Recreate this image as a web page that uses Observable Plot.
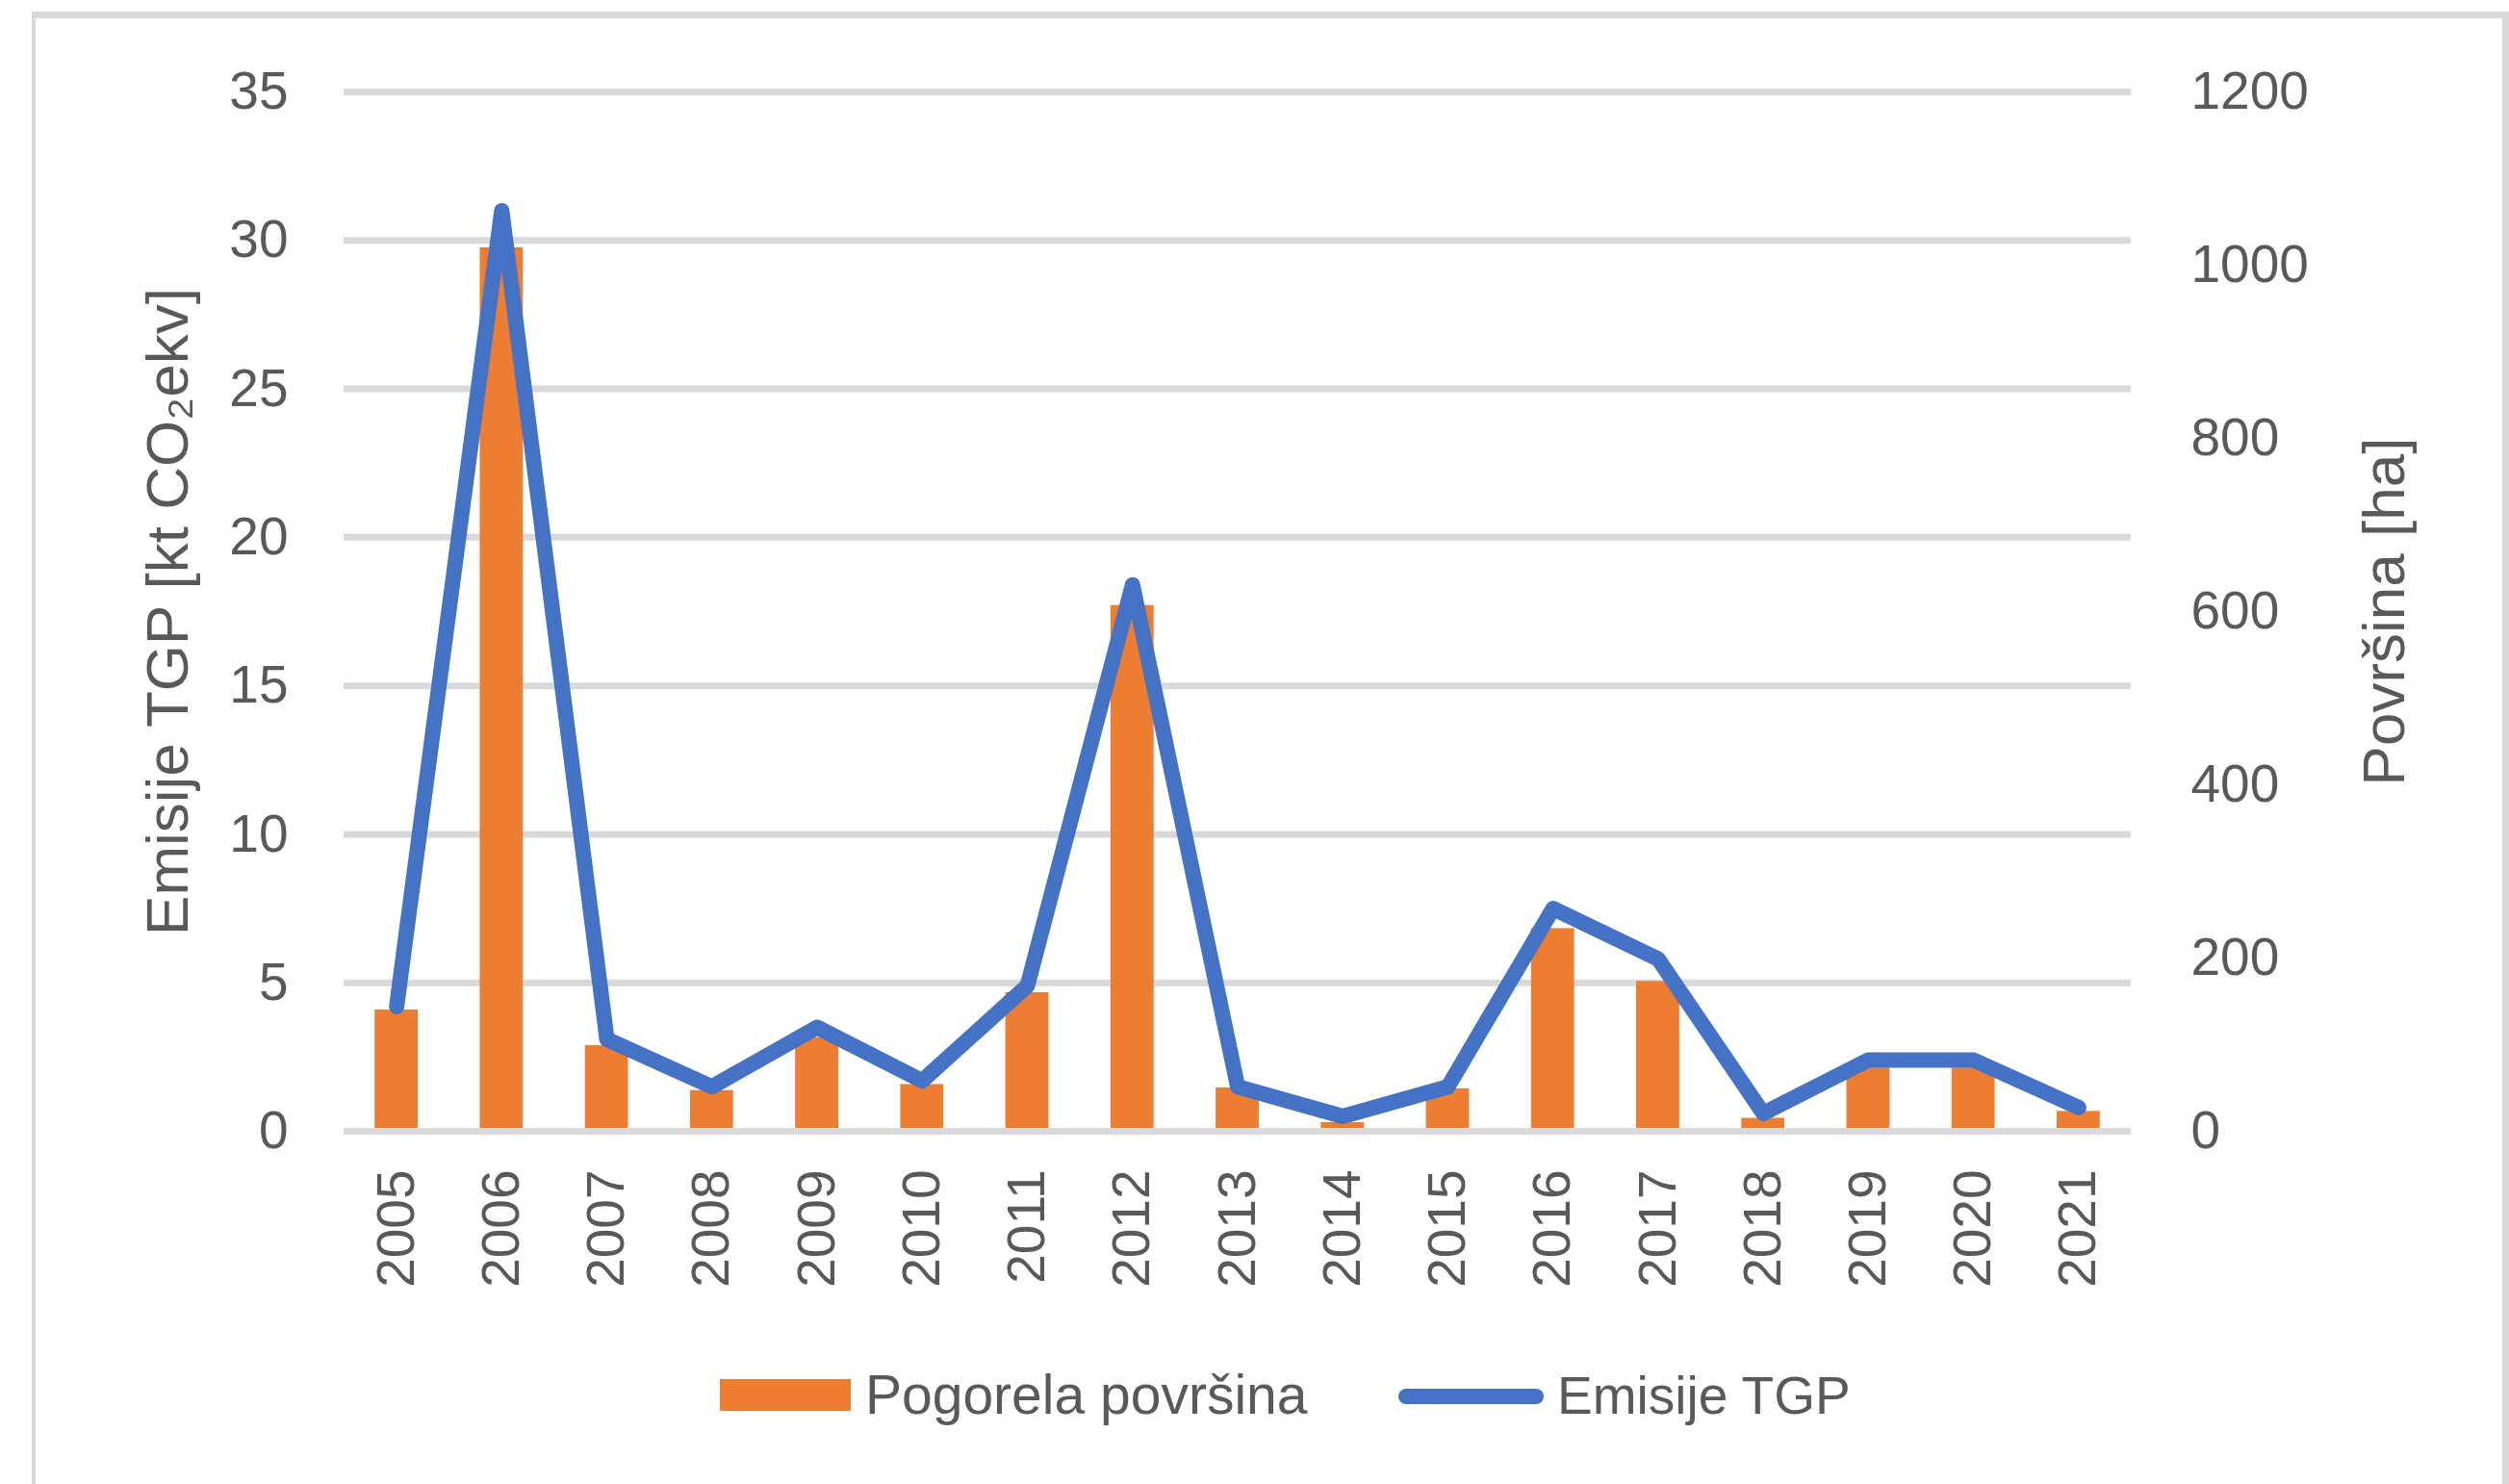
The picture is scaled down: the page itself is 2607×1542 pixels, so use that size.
<!DOCTYPE html>
<html>
<head>
<meta charset="utf-8">
<script src="https://cdn.jsdelivr.net/npm/d3@7"></script>
<script src="https://cdn.jsdelivr.net/npm/@observablehq/plot@0.6"></script>
<style>
html, body { margin: 0; padding: 0; background: #fff; overflow: hidden; width: 2607px; height: 1542px; }
#card { position: absolute; left: 33px; top: 12px; width: 2574px; height: 1600px; box-sizing: border-box;
  border-top: 7px solid #D9D9D9; border-left: 4px solid #D9D9D9; border-right: 7px solid #D9D9D9; }
#chart { position: absolute; left: 0; top: 0; width: 2607px; }
#legend { position: absolute; left: 0; top: 0; }
</style>
</head>
<body>
<div id="card"></div>
<div id="chart"></div>
<svg id="legend" width="2607" height="1542"></svg>
<script>
// ---- data ----
const years = ["2005","2006","2007","2008","2009","2010","2011","2012","2013","2014","2015","2016","2017","2018","2019","2020","2021"];
const burnedArea = [140, 1020, 99, 47, 108, 54, 160, 607, 50, 10, 49, 234, 173, 15, 73, 73, 23]; // ha (right axis)
const emissions = [4.2, 31.0, 3.1, 1.5, 3.5, 1.7, 4.9, 18.4, 1.5, 0.5, 1.5, 7.5, 5.8, 0.6, 2.4, 2.4, 0.8]; // kt CO2 ekv (left axis)
const leftTicks = [0, 5, 10, 15, 20, 25, 30, 35];
const rightTicks = [0, 200, 400, 600, 800, 1000, 1200];
const leftTitle = "Emisije TGP [kt CO\u2082ekv]";
const rightTitle = "Površina [ha]";
const seriesNames = ["Pogorela površina", "Emisije TGP"];

const leftMax = 35, rightMax = 1200;
const toLeft = v => v * leftMax / rightMax; // map ha onto the left (kt) scale

const rows = years.map((year, i) => ({year, area: burnedArea[i], emis: emissions[i]}));

const orange = "#ED7D31", blue = "#4472C4", grid = "#D9D9D9", textColor = "#595959";
const font = "'Liberation Sans', Arial, sans-serif";

const chart = Plot.plot({
  width: 2607,
  height: 1380,
  marginLeft: 357,
  marginRight: 393,
  marginTop: 95,
  marginBottom: 205,
  style: {fontFamily: font, fontSize: "55px", color: textColor, background: "transparent", overflow: "visible"},
  x: {type: "band", domain: years, paddingInner: 0.59, paddingOuter: 0.295, align: 0.5, round: false, axis: null},
  y: {domain: [0, leftMax], axis: null},
  marks: [
    Plot.ruleY(leftTicks, {stroke: grid, strokeWidth: 7}),
    Plot.barY(rows, {x: "year", y: d => toLeft(d.area), fill: orange}),
    Plot.ruleY([0], {stroke: grid, strokeWidth: 7}),
    Plot.line(rows, {x: "year", y: "emis", stroke: blue, strokeWidth: 16, strokeLinejoin: "round", strokeLinecap: "round"}),
    Plot.text(leftTicks, {y: d => d, text: d => String(d), frameAnchor: "left", dx: -58, textAnchor: "end", lineAnchor: "middle"}),
    Plot.text(rightTicks, {y: d => toLeft(d), text: d => String(d), frameAnchor: "right", dx: 62, textAnchor: "start", lineAnchor: "middle"}),
    Plot.text(years, {x: d => d, text: d => d, frameAnchor: "bottom", dy: 40, rotate: -90, textAnchor: "end", lineAnchor: "middle"}),
    Plot.text([leftTitle], {text: d => d, frameAnchor: "left", dx: -163, rotate: -90, textAnchor: "middle", lineAnchor: "bottom", fontSize: 62}),
    Plot.text([rightTitle], {text: d => d, frameAnchor: "right", dx: 283, rotate: -90, textAnchor: "middle", lineAnchor: "bottom", fontSize: 62})
  ]
});
document.getElementById("chart").appendChild(chart);

// ---- legend below the chart ----
const lg = d3.select("#legend");
lg.append("rect").attr("x", 748).attr("y", 1433).attr("width", 136).attr("height", 33).attr("fill", orange);
lg.append("text").attr("x", 899).attr("y", 1469).attr("font-family", font).attr("font-size", 57)
  .attr("fill", textColor).text(seriesNames[0]);
lg.append("line").attr("x1", 1461).attr("x2", 1596).attr("y1", 1451).attr("y2", 1451)
  .attr("stroke", blue).attr("stroke-width", 16).attr("stroke-linecap", "round");
lg.append("text").attr("x", 1618).attr("y", 1469).attr("font-family", font).attr("font-size", 55)
  .attr("fill", textColor).text(seriesNames[1]);
</script>
</body>
</html>
